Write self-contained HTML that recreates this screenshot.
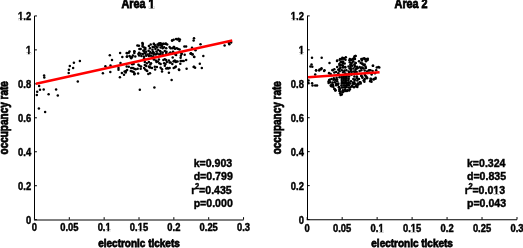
<!DOCTYPE html>
<html><head><meta charset="utf-8"><style>
html,body{margin:0;padding:0;background:#fff;overflow:hidden;}
svg{display:block;will-change:transform;}
text{font-family:"Liberation Sans",sans-serif;font-weight:bold;fill:#000;stroke:#000;}
</style></head><body>
<svg width="523" height="248" viewBox="0 0 523 248">
<rect width="523" height="248" fill="#fff"/>
<line x1="34.5" y1="15.94" x2="34.5" y2="219.68" stroke="#000" stroke-width="1"/>
<line x1="33.95" y1="220.0" x2="243.55" y2="220.0" stroke="#808080" stroke-width="2"/>
<line x1="34.45" y1="219.68" x2="36.95" y2="219.68" stroke="#000" stroke-width="1"/>
<text transform="translate(31.15,223.98) scale(1,1.12)" text-anchor="end" font-size="9.4" stroke-width="0.4">0</text>
<line x1="34.45" y1="185.72" x2="36.95" y2="185.72" stroke="#000" stroke-width="1"/>
<text transform="translate(31.15,190.02) scale(1,1.12)" text-anchor="end" font-size="9.4" stroke-width="0.4">0.2</text>
<line x1="34.45" y1="151.77" x2="36.95" y2="151.77" stroke="#000" stroke-width="1"/>
<text transform="translate(31.15,156.07) scale(1,1.12)" text-anchor="end" font-size="9.4" stroke-width="0.4">0.4</text>
<line x1="34.45" y1="117.81" x2="36.95" y2="117.81" stroke="#000" stroke-width="1"/>
<text transform="translate(31.15,122.11) scale(1,1.12)" text-anchor="end" font-size="9.4" stroke-width="0.4">0.6</text>
<line x1="34.45" y1="83.85" x2="36.95" y2="83.85" stroke="#000" stroke-width="1"/>
<text transform="translate(31.15,88.15) scale(1,1.12)" text-anchor="end" font-size="9.4" stroke-width="0.4">0.8</text>
<line x1="34.45" y1="49.90" x2="36.95" y2="49.90" stroke="#000" stroke-width="1"/>
<text transform="translate(31.15,54.20) scale(1,1.12)" text-anchor="end" font-size="9.4" stroke-width="0.4">1</text>
<line x1="34.45" y1="15.94" x2="36.95" y2="15.94" stroke="#000" stroke-width="1"/>
<text transform="translate(31.15,20.24) scale(1,1.12)" text-anchor="end" font-size="9.4" stroke-width="0.4">1.2</text>
<line x1="34.45" y1="219.68" x2="34.45" y2="217.18" stroke="#000" stroke-width="1"/>
<text transform="translate(34.45,231.18) scale(1,1.12)" text-anchor="middle" font-size="9.4" stroke-width="0.4">0</text>
<line x1="69.30" y1="219.68" x2="69.30" y2="217.18" stroke="#000" stroke-width="1"/>
<text transform="translate(69.30,231.18) scale(1,1.12)" text-anchor="middle" font-size="9.4" stroke-width="0.4">0.05</text>
<line x1="104.15" y1="219.68" x2="104.15" y2="217.18" stroke="#000" stroke-width="1"/>
<text transform="translate(104.15,231.18) scale(1,1.12)" text-anchor="middle" font-size="9.4" stroke-width="0.4">0.1</text>
<line x1="139.00" y1="219.68" x2="139.00" y2="217.18" stroke="#000" stroke-width="1"/>
<text transform="translate(139.00,231.18) scale(1,1.12)" text-anchor="middle" font-size="9.4" stroke-width="0.4">0.15</text>
<line x1="173.85" y1="219.68" x2="173.85" y2="217.18" stroke="#000" stroke-width="1"/>
<text transform="translate(173.85,231.18) scale(1,1.12)" text-anchor="middle" font-size="9.4" stroke-width="0.4">0.2</text>
<line x1="208.70" y1="219.68" x2="208.70" y2="217.18" stroke="#000" stroke-width="1"/>
<text transform="translate(208.70,231.18) scale(1,1.12)" text-anchor="middle" font-size="9.4" stroke-width="0.4">0.25</text>
<line x1="243.55" y1="219.68" x2="243.55" y2="217.18" stroke="#000" stroke-width="1"/>
<text transform="translate(243.55,231.18) scale(1,1.12)" text-anchor="middle" font-size="9.4" stroke-width="0.4">0.3</text>
<circle cx="44.1" cy="75.5" r="1.25"/>
<circle cx="44.3" cy="77.6" r="1.25"/>
<circle cx="68.7" cy="73.0" r="1.25"/>
<circle cx="68.9" cy="69.8" r="1.25"/>
<circle cx="69.8" cy="66.0" r="1.25"/>
<circle cx="73.1" cy="68.0" r="1.25"/>
<circle cx="73.9" cy="62.7" r="1.25"/>
<circle cx="79.9" cy="60.9" r="1.25"/>
<circle cx="77.8" cy="81.5" r="1.25"/>
<circle cx="39.1" cy="86.1" r="1.25"/>
<circle cx="40.0" cy="89.7" r="1.25"/>
<circle cx="43.7" cy="89.4" r="1.25"/>
<circle cx="56.1" cy="89.5" r="1.25"/>
<circle cx="37.2" cy="91.8" r="1.25"/>
<circle cx="36.8" cy="94.9" r="1.25"/>
<circle cx="48.6" cy="94.3" r="1.25"/>
<circle cx="57.8" cy="95.5" r="1.25"/>
<circle cx="38.9" cy="108.5" r="1.25"/>
<circle cx="45.1" cy="112.0" r="1.25"/>
<circle cx="109.8" cy="55.2" r="1.25"/>
<circle cx="112.0" cy="60.0" r="1.25"/>
<circle cx="120.1" cy="52.9" r="1.25"/>
<circle cx="122.3" cy="57.0" r="1.25"/>
<circle cx="127.1" cy="53.3" r="1.25"/>
<circle cx="126.8" cy="56.7" r="1.25"/>
<circle cx="102.9" cy="73.2" r="1.25"/>
<circle cx="110.3" cy="72.1" r="1.25"/>
<circle cx="105.4" cy="66.2" r="1.25"/>
<circle cx="110.5" cy="65.4" r="1.25"/>
<circle cx="119.9" cy="77.2" r="1.25"/>
<circle cx="118.5" cy="68.1" r="1.25"/>
<circle cx="118.5" cy="69.8" r="1.25"/>
<circle cx="121.9" cy="72.9" r="1.25"/>
<circle cx="124.0" cy="74.7" r="1.25"/>
<circle cx="124.6" cy="71.6" r="1.25"/>
<circle cx="126.0" cy="70.9" r="1.25"/>
<circle cx="127.1" cy="69.9" r="1.25"/>
<circle cx="125.7" cy="72.6" r="1.25"/>
<circle cx="128.8" cy="66.8" r="1.25"/>
<circle cx="131.2" cy="68.1" r="1.25"/>
<circle cx="132.9" cy="68.1" r="1.25"/>
<circle cx="134.3" cy="68.8" r="1.25"/>
<circle cx="135.7" cy="69.2" r="1.25"/>
<circle cx="137.7" cy="68.8" r="1.25"/>
<circle cx="130.8" cy="70.9" r="1.25"/>
<circle cx="132.2" cy="71.6" r="1.25"/>
<circle cx="133.6" cy="71.9" r="1.25"/>
<circle cx="134.6" cy="73.6" r="1.25"/>
<circle cx="134.3" cy="74.3" r="1.25"/>
<circle cx="138.1" cy="73.6" r="1.25"/>
<circle cx="132.2" cy="64.3" r="1.25"/>
<circle cx="133.6" cy="64.0" r="1.25"/>
<circle cx="138.4" cy="64.7" r="1.25"/>
<circle cx="139.4" cy="65.7" r="1.25"/>
<circle cx="126.7" cy="53.1" r="1.25"/>
<circle cx="128.8" cy="52.8" r="1.25"/>
<circle cx="127.1" cy="56.5" r="1.25"/>
<circle cx="129.5" cy="55.9" r="1.25"/>
<circle cx="130.5" cy="56.9" r="1.25"/>
<circle cx="131.2" cy="58.3" r="1.25"/>
<circle cx="132.2" cy="56.9" r="1.25"/>
<circle cx="134.3" cy="51.4" r="1.25"/>
<circle cx="134.3" cy="53.1" r="1.25"/>
<circle cx="135.3" cy="56.5" r="1.25"/>
<circle cx="138.4" cy="54.1" r="1.25"/>
<circle cx="139.1" cy="52.8" r="1.25"/>
<circle cx="139.1" cy="55.5" r="1.25"/>
<circle cx="132.9" cy="55.5" r="1.25"/>
<circle cx="120.5" cy="63.1" r="1.25"/>
<circle cx="126.7" cy="66.5" r="1.25"/>
<circle cx="134.4" cy="51.2" r="1.25"/>
<circle cx="129.5" cy="51.4" r="1.25"/>
<circle cx="137.4" cy="45.5" r="1.25"/>
<circle cx="138.9" cy="45.7" r="1.25"/>
<circle cx="142.4" cy="43.0" r="1.25"/>
<circle cx="142.6" cy="45.0" r="1.25"/>
<circle cx="142.6" cy="46.5" r="1.25"/>
<circle cx="139.4" cy="49.0" r="1.25"/>
<circle cx="143.4" cy="50.4" r="1.25"/>
<circle cx="145.4" cy="48.0" r="1.25"/>
<circle cx="142.8" cy="43.8" r="1.25"/>
<circle cx="153.9" cy="44.1" r="1.25"/>
<circle cx="157.5" cy="44.5" r="1.25"/>
<circle cx="159.9" cy="43.8" r="1.25"/>
<circle cx="161.8" cy="43.8" r="1.25"/>
<circle cx="163.6" cy="44.0" r="1.25"/>
<circle cx="166.0" cy="44.0" r="1.25"/>
<circle cx="172.0" cy="40.5" r="1.25"/>
<circle cx="176.1" cy="39.1" r="1.25"/>
<circle cx="178.5" cy="38.7" r="1.25"/>
<circle cx="179.9" cy="39.6" r="1.25"/>
<circle cx="179.4" cy="41.0" r="1.25"/>
<circle cx="172.3" cy="40.4" r="1.25"/>
<circle cx="177.5" cy="39.4" r="1.25"/>
<circle cx="194.0" cy="38.3" r="1.25"/>
<circle cx="193.6" cy="40.6" r="1.25"/>
<circle cx="200.5" cy="44.3" r="1.25"/>
<circle cx="228.8" cy="43.1" r="1.25"/>
<circle cx="231.1" cy="42.6" r="1.25"/>
<circle cx="192.0" cy="47.8" r="1.25"/>
<circle cx="195.5" cy="50.3" r="1.25"/>
<circle cx="191.4" cy="53.8" r="1.25"/>
<circle cx="192.6" cy="54.3" r="1.25"/>
<circle cx="194.3" cy="57.0" r="1.25"/>
<circle cx="203.3" cy="56.1" r="1.25"/>
<circle cx="224.6" cy="45.4" r="1.25"/>
<circle cx="229.3" cy="44.2" r="1.25"/>
<circle cx="199.8" cy="63.7" r="1.25"/>
<circle cx="193.7" cy="67.0" r="1.25"/>
<circle cx="201.8" cy="68.0" r="1.25"/>
<circle cx="173.7" cy="39.7" r="1.25"/>
<circle cx="140.7" cy="49.0" r="1.25"/>
<circle cx="144.1" cy="47.6" r="1.25"/>
<circle cx="145.2" cy="49.4" r="1.25"/>
<circle cx="143.8" cy="51.1" r="1.25"/>
<circle cx="146.2" cy="51.8" r="1.25"/>
<circle cx="144.5" cy="52.8" r="1.25"/>
<circle cx="148.9" cy="45.9" r="1.25"/>
<circle cx="150.0" cy="48.3" r="1.25"/>
<circle cx="150.7" cy="44.5" r="1.25"/>
<circle cx="148.6" cy="50.7" r="1.25"/>
<circle cx="150.3" cy="52.1" r="1.25"/>
<circle cx="153.8" cy="43.8" r="1.25"/>
<circle cx="154.8" cy="44.9" r="1.25"/>
<circle cx="152.7" cy="46.9" r="1.25"/>
<circle cx="154.1" cy="47.3" r="1.25"/>
<circle cx="152.4" cy="49.7" r="1.25"/>
<circle cx="153.1" cy="51.8" r="1.25"/>
<circle cx="153.8" cy="53.1" r="1.25"/>
<circle cx="155.5" cy="49.0" r="1.25"/>
<circle cx="156.2" cy="46.6" r="1.25"/>
<circle cx="157.2" cy="47.6" r="1.25"/>
<circle cx="156.5" cy="51.4" r="1.25"/>
<circle cx="158.2" cy="50.0" r="1.25"/>
<circle cx="160.0" cy="51.1" r="1.25"/>
<circle cx="157.5" cy="53.5" r="1.25"/>
<circle cx="158.9" cy="43.5" r="1.25"/>
<circle cx="160.3" cy="43.2" r="1.25"/>
<circle cx="158.6" cy="45.6" r="1.25"/>
<circle cx="160.6" cy="44.9" r="1.25"/>
<circle cx="162.0" cy="45.9" r="1.25"/>
<circle cx="160.6" cy="47.6" r="1.25"/>
<circle cx="162.7" cy="48.3" r="1.25"/>
<circle cx="164.1" cy="47.3" r="1.25"/>
<circle cx="162.0" cy="44.2" r="1.25"/>
<circle cx="163.7" cy="43.8" r="1.25"/>
<circle cx="165.8" cy="43.5" r="1.25"/>
<circle cx="167.2" cy="44.5" r="1.25"/>
<circle cx="160.6" cy="51.8" r="1.25"/>
<circle cx="162.7" cy="52.5" r="1.25"/>
<circle cx="164.8" cy="51.1" r="1.25"/>
<circle cx="166.2" cy="48.3" r="1.25"/>
<circle cx="166.5" cy="51.8" r="1.25"/>
<circle cx="169.6" cy="46.9" r="1.25"/>
<circle cx="170.6" cy="48.3" r="1.25"/>
<circle cx="172.3" cy="48.3" r="1.25"/>
<circle cx="174.4" cy="48.3" r="1.25"/>
<circle cx="173.7" cy="46.9" r="1.25"/>
<circle cx="170.3" cy="52.5" r="1.25"/>
<circle cx="173.0" cy="51.8" r="1.25"/>
<circle cx="155.8" cy="54.5" r="1.25"/>
<circle cx="159.3" cy="54.5" r="1.25"/>
<circle cx="140.7" cy="53.7" r="1.25"/>
<circle cx="142.8" cy="54.0" r="1.25"/>
<circle cx="145.5" cy="53.7" r="1.25"/>
<circle cx="147.6" cy="54.4" r="1.25"/>
<circle cx="149.6" cy="53.7" r="1.25"/>
<circle cx="152.0" cy="53.3" r="1.25"/>
<circle cx="153.8" cy="54.4" r="1.25"/>
<circle cx="156.5" cy="53.7" r="1.25"/>
<circle cx="141.4" cy="56.1" r="1.25"/>
<circle cx="143.8" cy="56.4" r="1.25"/>
<circle cx="146.2" cy="55.8" r="1.25"/>
<circle cx="148.9" cy="56.1" r="1.25"/>
<circle cx="151.0" cy="55.8" r="1.25"/>
<circle cx="153.1" cy="56.4" r="1.25"/>
<circle cx="160.6" cy="53.7" r="1.25"/>
<circle cx="162.7" cy="54.4" r="1.25"/>
<circle cx="166.2" cy="53.0" r="1.25"/>
<circle cx="168.9" cy="53.7" r="1.25"/>
<circle cx="172.3" cy="53.3" r="1.25"/>
<circle cx="174.4" cy="53.0" r="1.25"/>
<circle cx="144.1" cy="58.2" r="1.25"/>
<circle cx="144.8" cy="61.9" r="1.25"/>
<circle cx="146.9" cy="63.3" r="1.25"/>
<circle cx="148.9" cy="61.9" r="1.25"/>
<circle cx="151.0" cy="63.3" r="1.25"/>
<circle cx="150.3" cy="64.4" r="1.25"/>
<circle cx="144.8" cy="65.0" r="1.25"/>
<circle cx="146.2" cy="66.1" r="1.25"/>
<circle cx="148.9" cy="66.4" r="1.25"/>
<circle cx="153.8" cy="59.5" r="1.25"/>
<circle cx="155.8" cy="60.6" r="1.25"/>
<circle cx="156.5" cy="62.0" r="1.25"/>
<circle cx="157.9" cy="61.6" r="1.25"/>
<circle cx="158.9" cy="59.5" r="1.25"/>
<circle cx="159.3" cy="63.3" r="1.25"/>
<circle cx="160.6" cy="64.0" r="1.25"/>
<circle cx="163.4" cy="59.9" r="1.25"/>
<circle cx="164.8" cy="59.2" r="1.25"/>
<circle cx="166.2" cy="59.9" r="1.25"/>
<circle cx="166.8" cy="61.9" r="1.25"/>
<circle cx="164.1" cy="63.3" r="1.25"/>
<circle cx="165.5" cy="64.0" r="1.25"/>
<circle cx="164.8" cy="65.7" r="1.25"/>
<circle cx="168.9" cy="60.6" r="1.25"/>
<circle cx="169.6" cy="62.6" r="1.25"/>
<circle cx="170.6" cy="62.6" r="1.25"/>
<circle cx="172.3" cy="64.0" r="1.25"/>
<circle cx="173.7" cy="61.3" r="1.25"/>
<circle cx="174.8" cy="60.6" r="1.25"/>
<circle cx="175.8" cy="61.9" r="1.25"/>
<circle cx="150.3" cy="67.5" r="1.25"/>
<circle cx="152.0" cy="68.1" r="1.25"/>
<circle cx="154.8" cy="66.8" r="1.25"/>
<circle cx="155.1" cy="69.5" r="1.25"/>
<circle cx="160.6" cy="67.8" r="1.25"/>
<circle cx="162.0" cy="69.2" r="1.25"/>
<circle cx="166.2" cy="68.5" r="1.25"/>
<circle cx="168.2" cy="68.5" r="1.25"/>
<circle cx="169.6" cy="68.1" r="1.25"/>
<circle cx="173.7" cy="68.1" r="1.25"/>
<circle cx="144.1" cy="68.1" r="1.25"/>
<circle cx="141.0" cy="66.4" r="1.25"/>
<circle cx="140.7" cy="68.7" r="1.25"/>
<circle cx="145.2" cy="69.4" r="1.25"/>
<circle cx="146.5" cy="70.4" r="1.25"/>
<circle cx="147.2" cy="71.1" r="1.25"/>
<circle cx="149.6" cy="67.3" r="1.25"/>
<circle cx="148.3" cy="73.9" r="1.25"/>
<circle cx="150.0" cy="73.2" r="1.25"/>
<circle cx="156.9" cy="67.0" r="1.25"/>
<circle cx="162.0" cy="71.5" r="1.25"/>
<circle cx="167.5" cy="68.0" r="1.25"/>
<circle cx="168.9" cy="72.8" r="1.25"/>
<circle cx="171.6" cy="80.1" r="1.25"/>
<circle cx="175.1" cy="67.3" r="1.25"/>
<circle cx="174.1" cy="46.9" r="1.25"/>
<circle cx="175.1" cy="48.7" r="1.25"/>
<circle cx="176.8" cy="48.3" r="1.25"/>
<circle cx="178.2" cy="49.0" r="1.25"/>
<circle cx="179.6" cy="49.4" r="1.25"/>
<circle cx="184.4" cy="46.6" r="1.25"/>
<circle cx="186.1" cy="46.6" r="1.25"/>
<circle cx="181.6" cy="53.8" r="1.25"/>
<circle cx="190.6" cy="53.8" r="1.25"/>
<circle cx="192.3" cy="54.5" r="1.25"/>
<circle cx="175.4" cy="54.5" r="1.25"/>
<circle cx="176.1" cy="55.1" r="1.25"/>
<circle cx="172.7" cy="57.5" r="1.25"/>
<circle cx="181.6" cy="53.7" r="1.25"/>
<circle cx="180.9" cy="55.8" r="1.25"/>
<circle cx="180.6" cy="57.8" r="1.25"/>
<circle cx="184.7" cy="54.7" r="1.25"/>
<circle cx="190.9" cy="53.3" r="1.25"/>
<circle cx="194.0" cy="56.8" r="1.25"/>
<circle cx="174.1" cy="61.3" r="1.25"/>
<circle cx="176.1" cy="61.6" r="1.25"/>
<circle cx="177.5" cy="61.6" r="1.25"/>
<circle cx="180.6" cy="60.9" r="1.25"/>
<circle cx="182.0" cy="60.9" r="1.25"/>
<circle cx="183.7" cy="60.9" r="1.25"/>
<circle cx="186.1" cy="59.9" r="1.25"/>
<circle cx="180.3" cy="63.7" r="1.25"/>
<circle cx="175.8" cy="66.4" r="1.25"/>
<circle cx="194.0" cy="66.8" r="1.25"/>
<circle cx="195.1" cy="67.8" r="1.25"/>
<circle cx="178.9" cy="69.5" r="1.25"/>
<circle cx="186.6" cy="68.8" r="1.25"/>
<circle cx="179.2" cy="70.1" r="1.25"/>
<circle cx="139.8" cy="89.8" r="1.25"/>
<circle cx="154.4" cy="87.5" r="1.25"/>
<line x1="35.98" y1="83.69" x2="232.26" y2="40.51" stroke="#f00" stroke-width="2.6"/>
<text transform="translate(138.00,7.80) scale(1,1.1)" text-anchor="middle" font-size="10.8" stroke-width="0.7">Area 1</text>
<text transform="translate(139.00,247.10) scale(1,1.18)" text-anchor="middle" font-size="10.0" stroke-width="0.65">electronic tickets</text>
<text transform="translate(8.45,117.81) rotate(-90) scale(1,1.22)" text-anchor="middle" font-size="10.0" stroke-width="0.6">occupancy rate</text>
<text transform="translate(193.65,166.50) scale(1,1.1)" text-anchor="start" font-size="10.6" stroke-width="0.4">k=0.903</text>
<text transform="translate(193.65,179.50) scale(1,1.1)" text-anchor="start" font-size="10.6" stroke-width="0.4">d=0.799</text>
<text transform="translate(191.35,193.50) scale(1,1.1)" text-anchor="start" font-size="10.6" stroke-width="0.4">r<tspan dx="-0.4" dy="-4.3" font-size="7.6">2</tspan><tspan dx="-0.2" dy="4.3">=0.435</tspan></text>
<text transform="translate(193.65,206.50) scale(1,1.1)" text-anchor="start" font-size="10.6" stroke-width="0.4">p=0.000</text>
<line x1="307.5" y1="15.9" x2="307.5" y2="219.55" stroke="#000" stroke-width="1"/>
<line x1="306.7" y1="219.75" x2="517.0" y2="219.75" stroke="#000" stroke-width="1.2"/>
<line x1="307.2" y1="219.55" x2="309.7" y2="219.55" stroke="#000" stroke-width="1"/>
<text transform="translate(303.90,223.85) scale(1,1.12)" text-anchor="end" font-size="9.4" stroke-width="0.4">0</text>
<line x1="307.2" y1="185.61" x2="309.7" y2="185.61" stroke="#000" stroke-width="1"/>
<text transform="translate(303.90,189.91) scale(1,1.12)" text-anchor="end" font-size="9.4" stroke-width="0.4">0.2</text>
<line x1="307.2" y1="151.67" x2="309.7" y2="151.67" stroke="#000" stroke-width="1"/>
<text transform="translate(303.90,155.97) scale(1,1.12)" text-anchor="end" font-size="9.4" stroke-width="0.4">0.4</text>
<line x1="307.2" y1="117.72" x2="309.7" y2="117.72" stroke="#000" stroke-width="1"/>
<text transform="translate(303.90,122.02) scale(1,1.12)" text-anchor="end" font-size="9.4" stroke-width="0.4">0.6</text>
<line x1="307.2" y1="83.78" x2="309.7" y2="83.78" stroke="#000" stroke-width="1"/>
<text transform="translate(303.90,88.08) scale(1,1.12)" text-anchor="end" font-size="9.4" stroke-width="0.4">0.8</text>
<line x1="307.2" y1="49.84" x2="309.7" y2="49.84" stroke="#000" stroke-width="1"/>
<text transform="translate(303.90,54.14) scale(1,1.12)" text-anchor="end" font-size="9.4" stroke-width="0.4">1</text>
<line x1="307.2" y1="15.90" x2="309.7" y2="15.90" stroke="#000" stroke-width="1"/>
<text transform="translate(303.90,20.20) scale(1,1.12)" text-anchor="end" font-size="9.4" stroke-width="0.4">1.2</text>
<line x1="307.20" y1="219.55" x2="307.20" y2="217.05" stroke="#000" stroke-width="1"/>
<text transform="translate(307.20,231.65) scale(1,1.12)" text-anchor="middle" font-size="9.4" stroke-width="0.4">0</text>
<line x1="342.17" y1="219.55" x2="342.17" y2="217.05" stroke="#000" stroke-width="1"/>
<text transform="translate(342.17,231.65) scale(1,1.12)" text-anchor="middle" font-size="9.4" stroke-width="0.4">0.05</text>
<line x1="377.13" y1="219.55" x2="377.13" y2="217.05" stroke="#000" stroke-width="1"/>
<text transform="translate(377.13,231.65) scale(1,1.12)" text-anchor="middle" font-size="9.4" stroke-width="0.4">0.1</text>
<line x1="412.10" y1="219.55" x2="412.10" y2="217.05" stroke="#000" stroke-width="1"/>
<text transform="translate(412.10,231.65) scale(1,1.12)" text-anchor="middle" font-size="9.4" stroke-width="0.4">0.15</text>
<line x1="447.07" y1="219.55" x2="447.07" y2="217.05" stroke="#000" stroke-width="1"/>
<text transform="translate(447.07,231.65) scale(1,1.12)" text-anchor="middle" font-size="9.4" stroke-width="0.4">0.2</text>
<line x1="482.03" y1="219.55" x2="482.03" y2="217.05" stroke="#000" stroke-width="1"/>
<text transform="translate(482.03,231.65) scale(1,1.12)" text-anchor="middle" font-size="9.4" stroke-width="0.4">0.25</text>
<line x1="517.00" y1="219.55" x2="517.00" y2="217.05" stroke="#000" stroke-width="1"/>
<text transform="translate(517.00,231.65) scale(1,1.12)" text-anchor="middle" font-size="9.4" stroke-width="0.4">0.3</text>
<circle cx="312.0" cy="57.8" r="1.25"/>
<circle cx="321.7" cy="57.8" r="1.25"/>
<circle cx="329.5" cy="63.0" r="1.25"/>
<circle cx="311.5" cy="64.5" r="1.25"/>
<circle cx="310.4" cy="66.4" r="1.25"/>
<circle cx="312.3" cy="66.8" r="1.25"/>
<circle cx="316.1" cy="70.2" r="1.25"/>
<circle cx="319.6" cy="69.5" r="1.25"/>
<circle cx="321.5" cy="68.3" r="1.25"/>
<circle cx="324.5" cy="70.2" r="1.25"/>
<circle cx="321.1" cy="69.2" r="1.25"/>
<circle cx="329.2" cy="73.2" r="1.25"/>
<circle cx="332.6" cy="70.3" r="1.25"/>
<circle cx="334.3" cy="69.2" r="1.25"/>
<circle cx="337.2" cy="66.9" r="1.25"/>
<circle cx="338.3" cy="69.8" r="1.25"/>
<circle cx="340.1" cy="68.6" r="1.25"/>
<circle cx="337.0" cy="61.0" r="1.25"/>
<circle cx="337.2" cy="60.6" r="1.25"/>
<circle cx="339.7" cy="59.7" r="1.25"/>
<circle cx="342.6" cy="58.3" r="1.25"/>
<circle cx="341.6" cy="59.3" r="1.25"/>
<circle cx="344.0" cy="58.8" r="1.25"/>
<circle cx="341.1" cy="61.7" r="1.25"/>
<circle cx="343.1" cy="61.7" r="1.25"/>
<circle cx="345.5" cy="59.7" r="1.25"/>
<circle cx="349.4" cy="60.2" r="1.25"/>
<circle cx="350.3" cy="59.7" r="1.25"/>
<circle cx="349.8" cy="62.2" r="1.25"/>
<circle cx="352.3" cy="59.3" r="1.25"/>
<circle cx="353.2" cy="58.8" r="1.25"/>
<circle cx="352.3" cy="62.6" r="1.25"/>
<circle cx="340.1" cy="58.9" r="1.25"/>
<circle cx="342.4" cy="57.7" r="1.25"/>
<circle cx="344.1" cy="58.3" r="1.25"/>
<circle cx="345.8" cy="57.2" r="1.25"/>
<circle cx="340.6" cy="62.3" r="1.25"/>
<circle cx="342.9" cy="61.7" r="1.25"/>
<circle cx="344.7" cy="63.5" r="1.25"/>
<circle cx="342.9" cy="65.8" r="1.25"/>
<circle cx="345.2" cy="66.9" r="1.25"/>
<circle cx="341.8" cy="70.3" r="1.25"/>
<circle cx="344.1" cy="71.5" r="1.25"/>
<circle cx="346.4" cy="70.3" r="1.25"/>
<circle cx="348.7" cy="71.5" r="1.25"/>
<circle cx="349.8" cy="58.9" r="1.25"/>
<circle cx="351.5" cy="60.0" r="1.25"/>
<circle cx="353.3" cy="61.2" r="1.25"/>
<circle cx="354.4" cy="56.6" r="1.25"/>
<circle cx="355.0" cy="58.9" r="1.25"/>
<circle cx="355.6" cy="56.0" r="1.25"/>
<circle cx="350.4" cy="64.6" r="1.25"/>
<circle cx="352.1" cy="65.8" r="1.25"/>
<circle cx="354.4" cy="64.6" r="1.25"/>
<circle cx="355.6" cy="62.9" r="1.25"/>
<circle cx="351.0" cy="69.2" r="1.25"/>
<circle cx="353.3" cy="68.6" r="1.25"/>
<circle cx="355.6" cy="69.2" r="1.25"/>
<circle cx="357.8" cy="68.1" r="1.25"/>
<circle cx="353.3" cy="71.5" r="1.25"/>
<circle cx="356.7" cy="72.1" r="1.25"/>
<circle cx="359.6" cy="70.9" r="1.25"/>
<circle cx="361.3" cy="70.3" r="1.25"/>
<circle cx="359.0" cy="61.2" r="1.25"/>
<circle cx="360.7" cy="62.9" r="1.25"/>
<circle cx="362.4" cy="64.0" r="1.25"/>
<circle cx="361.9" cy="60.6" r="1.25"/>
<circle cx="359.6" cy="66.9" r="1.25"/>
<circle cx="361.9" cy="67.5" r="1.25"/>
<circle cx="363.6" cy="68.6" r="1.25"/>
<circle cx="361.3" cy="58.9" r="1.25"/>
<circle cx="364.2" cy="58.3" r="1.25"/>
<circle cx="365.9" cy="58.9" r="1.25"/>
<circle cx="367.6" cy="60.0" r="1.25"/>
<circle cx="364.7" cy="64.6" r="1.25"/>
<circle cx="365.9" cy="68.1" r="1.25"/>
<circle cx="367.0" cy="71.5" r="1.25"/>
<circle cx="369.3" cy="70.3" r="1.25"/>
<circle cx="372.8" cy="65.8" r="1.25"/>
<circle cx="376.8" cy="67.5" r="1.25"/>
<circle cx="370.5" cy="70.3" r="1.25"/>
<circle cx="334.3" cy="72.6" r="1.25"/>
<circle cx="336.1" cy="72.1" r="1.25"/>
<circle cx="338.3" cy="73.2" r="1.25"/>
<circle cx="371.6" cy="74.4" r="1.25"/>
<circle cx="375.0" cy="73.2" r="1.25"/>
<circle cx="329.2" cy="80.0" r="1.25"/>
<circle cx="330.3" cy="82.3" r="1.25"/>
<circle cx="328.6" cy="82.9" r="1.25"/>
<circle cx="331.5" cy="78.9" r="1.25"/>
<circle cx="333.8" cy="78.3" r="1.25"/>
<circle cx="336.6" cy="77.7" r="1.25"/>
<circle cx="339.5" cy="77.2" r="1.25"/>
<circle cx="332.6" cy="84.6" r="1.25"/>
<circle cx="331.5" cy="86.3" r="1.25"/>
<circle cx="334.9" cy="82.3" r="1.25"/>
<circle cx="337.2" cy="81.2" r="1.25"/>
<circle cx="338.3" cy="83.5" r="1.25"/>
<circle cx="336.1" cy="85.2" r="1.25"/>
<circle cx="334.9" cy="89.2" r="1.25"/>
<circle cx="335.5" cy="90.3" r="1.25"/>
<circle cx="338.9" cy="86.9" r="1.25"/>
<circle cx="339.5" cy="89.2" r="1.25"/>
<circle cx="340.6" cy="91.5" r="1.25"/>
<circle cx="341.8" cy="94.4" r="1.25"/>
<circle cx="342.4" cy="92.6" r="1.25"/>
<circle cx="342.9" cy="90.3" r="1.25"/>
<circle cx="345.2" cy="89.2" r="1.25"/>
<circle cx="347.5" cy="90.3" r="1.25"/>
<circle cx="349.8" cy="89.2" r="1.25"/>
<circle cx="350.4" cy="83.5" r="1.25"/>
<circle cx="352.1" cy="85.8" r="1.25"/>
<circle cx="351.0" cy="81.2" r="1.25"/>
<circle cx="353.3" cy="78.9" r="1.25"/>
<circle cx="354.4" cy="82.9" r="1.25"/>
<circle cx="355.6" cy="86.3" r="1.25"/>
<circle cx="357.8" cy="83.5" r="1.25"/>
<circle cx="357.3" cy="86.9" r="1.25"/>
<circle cx="354.4" cy="76.6" r="1.25"/>
<circle cx="356.7" cy="77.7" r="1.25"/>
<circle cx="359.0" cy="78.9" r="1.25"/>
<circle cx="361.3" cy="76.0" r="1.25"/>
<circle cx="362.4" cy="77.7" r="1.25"/>
<circle cx="363.6" cy="80.6" r="1.25"/>
<circle cx="364.7" cy="78.9" r="1.25"/>
<circle cx="359.6" cy="82.3" r="1.25"/>
<circle cx="360.7" cy="83.5" r="1.25"/>
<circle cx="365.9" cy="76.6" r="1.25"/>
<circle cx="367.0" cy="78.3" r="1.25"/>
<circle cx="370.5" cy="80.6" r="1.25"/>
<circle cx="371.0" cy="78.9" r="1.25"/>
<circle cx="373.9" cy="78.9" r="1.25"/>
<circle cx="375.6" cy="77.7" r="1.25"/>
<circle cx="340.6" cy="94.9" r="1.25"/>
<circle cx="340.1" cy="93.2" r="1.25"/>
<circle cx="316.1" cy="70.4" r="1.25"/>
<circle cx="319.2" cy="70.4" r="1.25"/>
<circle cx="324.1" cy="70.9" r="1.25"/>
<circle cx="315.2" cy="74.4" r="1.25"/>
<circle cx="329.0" cy="73.1" r="1.25"/>
<circle cx="330.7" cy="74.0" r="1.25"/>
<circle cx="308.5" cy="80.6" r="1.25"/>
<circle cx="308.5" cy="82.9" r="1.25"/>
<circle cx="312.1" cy="83.3" r="1.25"/>
<circle cx="312.5" cy="85.5" r="1.25"/>
<circle cx="315.2" cy="85.5" r="1.25"/>
<circle cx="317.0" cy="85.5" r="1.25"/>
<circle cx="328.5" cy="81.5" r="1.25"/>
<circle cx="329.8" cy="79.8" r="1.25"/>
<circle cx="330.7" cy="85.5" r="1.25"/>
<circle cx="331.6" cy="84.6" r="1.25"/>
<circle cx="333.4" cy="79.8" r="1.25"/>
<circle cx="334.3" cy="78.9" r="1.25"/>
<circle cx="333.4" cy="86.9" r="1.25"/>
<circle cx="334.3" cy="89.1" r="1.25"/>
<circle cx="332.5" cy="70.0" r="1.25"/>
<circle cx="362.9" cy="58.7" r="1.25"/>
<circle cx="365.1" cy="59.5" r="1.25"/>
<circle cx="367.8" cy="58.7" r="1.25"/>
<circle cx="366.0" cy="61.3" r="1.25"/>
<circle cx="362.4" cy="63.5" r="1.25"/>
<circle cx="363.8" cy="65.3" r="1.25"/>
<circle cx="362.4" cy="68.0" r="1.25"/>
<circle cx="365.5" cy="66.6" r="1.25"/>
<circle cx="373.1" cy="65.8" r="1.25"/>
<circle cx="378.4" cy="67.1" r="1.25"/>
<circle cx="379.3" cy="67.5" r="1.25"/>
<circle cx="364.7" cy="70.6" r="1.25"/>
<circle cx="368.7" cy="70.6" r="1.25"/>
<circle cx="372.6" cy="71.1" r="1.25"/>
<circle cx="376.2" cy="70.2" r="1.25"/>
<circle cx="356.9" cy="76.4" r="1.25"/>
<circle cx="357.8" cy="78.7" r="1.25"/>
<circle cx="357.3" cy="80.4" r="1.25"/>
<circle cx="361.3" cy="75.5" r="1.25"/>
<circle cx="362.2" cy="76.9" r="1.25"/>
<circle cx="364.9" cy="75.1" r="1.25"/>
<circle cx="366.2" cy="76.4" r="1.25"/>
<circle cx="367.1" cy="77.8" r="1.25"/>
<circle cx="364.4" cy="80.0" r="1.25"/>
<circle cx="364.4" cy="81.8" r="1.25"/>
<circle cx="360.4" cy="82.2" r="1.25"/>
<circle cx="358.2" cy="84.4" r="1.25"/>
<circle cx="356.9" cy="86.2" r="1.25"/>
<circle cx="370.6" cy="78.7" r="1.25"/>
<circle cx="371.5" cy="79.5" r="1.25"/>
<circle cx="370.2" cy="81.3" r="1.25"/>
<circle cx="371.5" cy="81.8" r="1.25"/>
<circle cx="373.7" cy="79.5" r="1.25"/>
<circle cx="375.5" cy="78.7" r="1.25"/>
<circle cx="331.3" cy="86.0" r="1.25"/>
<circle cx="333.1" cy="85.1" r="1.25"/>
<circle cx="335.3" cy="90.4" r="1.25"/>
<circle cx="336.2" cy="83.8" r="1.25"/>
<circle cx="338.0" cy="84.7" r="1.25"/>
<circle cx="338.9" cy="87.3" r="1.25"/>
<circle cx="339.8" cy="89.1" r="1.25"/>
<circle cx="339.3" cy="90.9" r="1.25"/>
<circle cx="343.3" cy="91.8" r="1.25"/>
<circle cx="345.1" cy="90.9" r="1.25"/>
<circle cx="346.9" cy="90.9" r="1.25"/>
<circle cx="349.1" cy="90.4" r="1.25"/>
<circle cx="350.4" cy="87.3" r="1.25"/>
<circle cx="352.2" cy="86.4" r="1.25"/>
<circle cx="354.0" cy="87.3" r="1.25"/>
<circle cx="354.8" cy="83.8" r="1.25"/>
<circle cx="356.6" cy="84.7" r="1.25"/>
<circle cx="358.4" cy="84.2" r="1.25"/>
<circle cx="355.3" cy="56.1" r="1.25"/>
<circle cx="354.2" cy="58.0" r="1.25"/>
<circle cx="341.6" cy="76.6" r="1.25"/>
<circle cx="343.5" cy="76.8" r="1.25"/>
<circle cx="345.2" cy="76.8" r="1.25"/>
<circle cx="346.6" cy="76.5" r="1.25"/>
<circle cx="349.0" cy="76.6" r="1.25"/>
<circle cx="341.7" cy="78.1" r="1.25"/>
<circle cx="343.3" cy="78.1" r="1.25"/>
<circle cx="345.1" cy="78.3" r="1.25"/>
<circle cx="346.6" cy="78.1" r="1.25"/>
<circle cx="348.6" cy="78.5" r="1.25"/>
<circle cx="341.7" cy="79.9" r="1.25"/>
<circle cx="343.5" cy="79.9" r="1.25"/>
<circle cx="345.2" cy="79.9" r="1.25"/>
<circle cx="346.6" cy="80.3" r="1.25"/>
<circle cx="348.5" cy="79.9" r="1.25"/>
<circle cx="341.8" cy="82.1" r="1.25"/>
<circle cx="343.2" cy="82.2" r="1.25"/>
<circle cx="345.1" cy="82.0" r="1.25"/>
<circle cx="346.7" cy="82.2" r="1.25"/>
<circle cx="348.8" cy="82.2" r="1.25"/>
<circle cx="341.7" cy="83.6" r="1.25"/>
<circle cx="343.2" cy="83.5" r="1.25"/>
<circle cx="344.9" cy="83.4" r="1.25"/>
<circle cx="346.8" cy="83.8" r="1.25"/>
<circle cx="348.4" cy="83.8" r="1.25"/>
<circle cx="341.4" cy="85.4" r="1.25"/>
<circle cx="343.5" cy="85.5" r="1.25"/>
<circle cx="345.0" cy="85.5" r="1.25"/>
<circle cx="347.0" cy="85.2" r="1.25"/>
<circle cx="349.0" cy="85.2" r="1.25"/>
<circle cx="341.6" cy="87.5" r="1.25"/>
<circle cx="343.0" cy="87.5" r="1.25"/>
<circle cx="345.0" cy="87.3" r="1.25"/>
<circle cx="346.6" cy="87.0" r="1.25"/>
<circle cx="348.5" cy="87.6" r="1.25"/>
<circle cx="339.3" cy="64.0" r="1.25"/>
<circle cx="342.8" cy="63.5" r="1.25"/>
<circle cx="351.3" cy="63.9" r="1.25"/>
<circle cx="355.5" cy="63.0" r="1.25"/>
<circle cx="339.5" cy="65.4" r="1.25"/>
<circle cx="340.8" cy="64.9" r="1.25"/>
<circle cx="342.6" cy="65.5" r="1.25"/>
<circle cx="350.5" cy="65.9" r="1.25"/>
<circle cx="354.7" cy="65.4" r="1.25"/>
<circle cx="340.5" cy="67.6" r="1.25"/>
<circle cx="343.0" cy="67.5" r="1.25"/>
<circle cx="345.3" cy="67.6" r="1.25"/>
<circle cx="354.9" cy="66.7" r="1.25"/>
<circle cx="338.9" cy="69.5" r="1.25"/>
<circle cx="356.9" cy="68.5" r="1.25"/>
<circle cx="339.6" cy="71.3" r="1.25"/>
<circle cx="344.5" cy="70.4" r="1.25"/>
<circle cx="355.3" cy="71.0" r="1.25"/>
<circle cx="343.2" cy="72.2" r="1.25"/>
<circle cx="351.5" cy="72.7" r="1.25"/>
<circle cx="355.1" cy="72.2" r="1.25"/>
<circle cx="347.2" cy="74.6" r="1.25"/>
<circle cx="351.4" cy="74.7" r="1.25"/>
<circle cx="348.5" cy="66.6" r="1.25"/>
<circle cx="357.0" cy="66.7" r="1.25"/>
<circle cx="349.5" cy="68.5" r="1.25"/>
<circle cx="350.7" cy="67.8" r="1.25"/>
<circle cx="360.6" cy="68.1" r="1.25"/>
<circle cx="350.9" cy="71.0" r="1.25"/>
<circle cx="345.4" cy="73.4" r="1.25"/>
<circle cx="349.1" cy="73.1" r="1.25"/>
<circle cx="335.4" cy="80.0" r="1.25"/>
<circle cx="337.1" cy="79.4" r="1.25"/>
<circle cx="355.0" cy="79.4" r="1.25"/>
<circle cx="354.5" cy="80.8" r="1.25"/>
<circle cx="332.7" cy="82.4" r="1.25"/>
<circle cx="353.0" cy="82.5" r="1.25"/>
<circle cx="353.2" cy="84.0" r="1.25"/>
<line x1="308.04" y1="77.28" x2="379.58" y2="72.25" stroke="#f00" stroke-width="2.6"/>
<text transform="translate(411.10,7.80) scale(1,1.1)" text-anchor="middle" font-size="10.8" stroke-width="0.7">Area 2</text>
<text transform="translate(412.10,247.10) scale(1,1.18)" text-anchor="middle" font-size="10.0" stroke-width="0.65">electronic tickets</text>
<text transform="translate(281.20,117.73) rotate(-90) scale(1,1.22)" text-anchor="middle" font-size="10.0" stroke-width="0.6">occupancy rate</text>
<text transform="translate(466.95,166.50) scale(1,1.1)" text-anchor="start" font-size="10.6" stroke-width="0.4">k=0.324</text>
<text transform="translate(466.95,179.50) scale(1,1.1)" text-anchor="start" font-size="10.6" stroke-width="0.4">d=0.835</text>
<text transform="translate(464.65,193.50) scale(1,1.1)" text-anchor="start" font-size="10.6" stroke-width="0.4">r<tspan dx="-0.4" dy="-4.3" font-size="7.6">2</tspan><tspan dx="-0.2" dy="4.3">=0.013</tspan></text>
<text transform="translate(466.95,206.50) scale(1,1.1)" text-anchor="start" font-size="10.6" stroke-width="0.4">p=0.043</text>
<g transform="translate(31.15,54.20) scale(1,1.12)"><rect x="-5.13" y="-1.28" width="1.90" height="1.78" fill="#fff"/><rect x="-1.54" y="-1.28" width="1.78" height="1.78" fill="#fff"/></g>
<g transform="translate(31.15,20.24) scale(1,1.12)"><rect x="-12.96" y="-1.28" width="1.90" height="1.78" fill="#fff"/><rect x="-9.37" y="-1.28" width="1.78" height="1.78" fill="#fff"/></g>
<g transform="translate(104.15,231.18) scale(1,1.12)"><rect x="1.39" y="-1.28" width="1.90" height="1.78" fill="#fff"/><rect x="4.99" y="-1.28" width="1.78" height="1.78" fill="#fff"/></g>
<g transform="translate(139.00,231.18) scale(1,1.12)"><rect x="-1.22" y="-1.28" width="1.90" height="1.78" fill="#fff"/><rect x="2.37" y="-1.28" width="1.78" height="1.78" fill="#fff"/></g>
<g transform="translate(138.00,7.80) scale(1,1.1)"><rect x="10.52" y="-1.57" width="2.14" height="2.22" fill="#fff"/><rect x="14.85" y="-1.57" width="2.00" height="2.22" fill="#fff"/></g>
<g transform="translate(303.90,54.14) scale(1,1.12)"><rect x="-5.13" y="-1.28" width="1.90" height="1.78" fill="#fff"/><rect x="-1.54" y="-1.28" width="1.78" height="1.78" fill="#fff"/></g>
<g transform="translate(303.90,20.20) scale(1,1.12)"><rect x="-12.96" y="-1.28" width="1.90" height="1.78" fill="#fff"/><rect x="-9.37" y="-1.28" width="1.78" height="1.78" fill="#fff"/></g>
<g transform="translate(377.13,231.65) scale(1,1.12)"><rect x="1.39" y="-1.28" width="1.90" height="1.78" fill="#fff"/><rect x="4.99" y="-1.28" width="1.78" height="1.78" fill="#fff"/></g>
<g transform="translate(412.10,231.65) scale(1,1.12)"><rect x="-1.22" y="-1.28" width="1.90" height="1.78" fill="#fff"/><rect x="2.37" y="-1.28" width="1.78" height="1.78" fill="#fff"/></g>
<g transform="translate(464.65,193.50) scale(1,1.1)"><rect x="28.81" y="-1.40" width="2.11" height="1.90" fill="#fff"/><rect x="32.77" y="-1.40" width="1.97" height="1.90" fill="#fff"/></g>
</svg>
</body></html>
